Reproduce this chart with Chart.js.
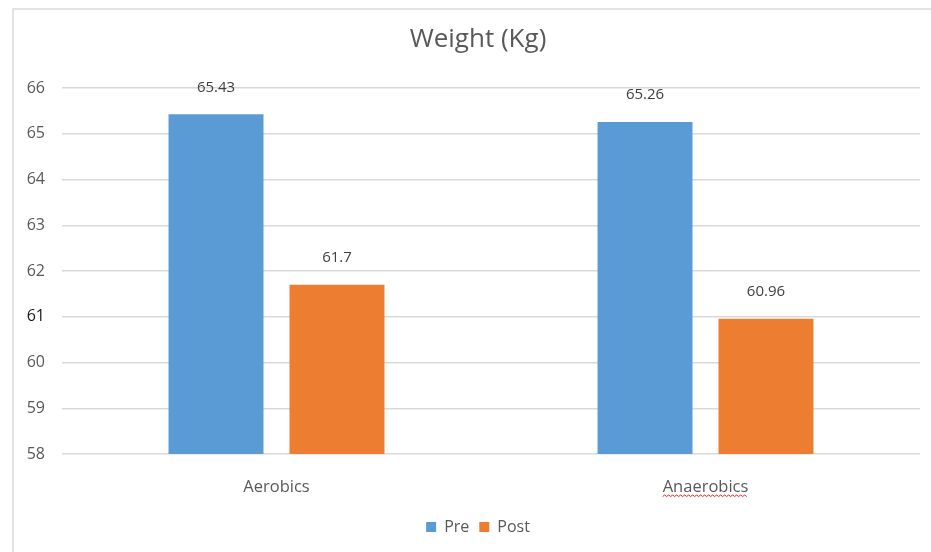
<!DOCTYPE html>
<html>
<head>
<meta charset="utf-8">
<script src="https://cdn.jsdelivr.net/npm/chart.js@4/dist/chart.umd.min.js"></script>
<style>
  html, body { margin: 0; padding: 0; background: #fff; }
  #frame { position: absolute; left: 0; top: 0; width: 931px; height: 552px; overflow: hidden; }
  #edge { position: absolute; left: 12px; top: 8px; right: -2px; bottom: -2px;
          border-top: 2px solid #e3e3e3; border-left: 2px solid #e3e3e3; }
  canvas { position: absolute; left: 0; top: 0; }
</style>
</head>
<body>
<div id="frame">
  <div id="edge"></div>
  <canvas id="chart" width="931" height="552"></canvas>
</div>
<script>
// Body weight before and after each training programme
const categories = ['Aerobics', 'Anaerobics'];
const preValues = [65.43, 65.26];
const postValues = [61.7, 60.96];
const seriesNames = ['Pre', 'Post'];
const yTicks = [58, 59, 60, 61, 62, 63, 64, 65, 66];

const FONT = '"Open Sans", Lato, sans-serif';
const GREY = '#595959';

// Title and legend sit centred on the whole frame, a little right of the canvas middle
const centreShift = {
  id: 'centreShift',
  afterLayout(chart) {
    const dx = 18;
    [chart.titleBlock, chart.legend].forEach(box => {
      if (box) { box.left += dx; box.right += dx; }
    });
  }
};

// Value labels above each bar
const valueLabels = {
  id: 'valueLabels',
  afterDatasetsDraw(chart) {
    const ctx = chart.ctx;
    ctx.save();
    ctx.font = '15px ' + FONT;
    ctx.fillStyle = '#404040';
    ctx.textAlign = 'center';
    ctx.textBaseline = 'middle';
    chart.data.datasets.forEach((ds, i) => {
      chart.getDatasetMeta(i).data.forEach((bar, j) => {
        ctx.fillText(String(ds.data[j]), bar.x, bar.y - 27);
      });
    });
    ctx.restore();
  }
};

// Wavy red underline beneath the second category name
const squiggle = {
  id: 'squiggle',
  afterDraw(chart) {
    const scale = chart.scales.x;
    const ctx = chart.ctx;
    ctx.save();
    ctx.font = '16.5px ' + FONT;
    const w = ctx.measureText(categories[1]).width;
    const cx = scale.getPixelForTick(1);
    const y = scale.top + 41;
    ctx.strokeStyle = '#e02020';
    ctx.lineWidth = 1;
    ctx.beginPath();
    for (let x = cx - w / 2; x <= cx + w / 2; x += 2) {
      const yy = y + ((Math.round((x - cx) / 2) % 2 === 0) ? 0 : 1.5);
      if (x === cx - w / 2) ctx.moveTo(x, yy); else ctx.lineTo(x, yy);
    }
    ctx.stroke();
    ctx.restore();
  }
};

new Chart(document.getElementById('chart'), {
  type: 'bar',
  data: {
    labels: categories,
    datasets: [
      { label: seriesNames[0], data: preValues, backgroundColor: '#5B9BD5' },
      { label: seriesNames[1], data: postValues, backgroundColor: '#ED7D31' }
    ]
  },
  options: {
    responsive: false,
    animation: false,
    devicePixelRatio: 1,
    categoryPercentage: 0.564,
    barPercentage: 0.785,
    layout: { padding: { left: 0, right: 11, top: 0, bottom: 7 } },
    plugins: {
      title: {
        display: true,
        text: 'Weight (Kg)',
        color: GREY,
        font: { family: FONT, size: 26, weight: 'normal' },
        padding: { top: 24, bottom: 33 }
      },
      legend: {
        position: 'bottom',
        labels: {
          color: GREY,
          font: { family: FONT, size: 16 },
          boxWidth: 10,
          boxHeight: 10,
          padding: 10
        }
      },
      tooltip: { enabled: false }
    },
    scales: {
      x: {
        grid: { display: false, drawTicks: false },
        border: { display: false },
        ticks: { color: GREY, font: { family: FONT, size: 16.5 }, padding: 23 },
        afterFit(scale) { scale.height = 55; }
      },
      y: {
        min: yTicks[0],
        max: yTicks[yTicks.length - 1],
        afterBuildTicks(scale) { scale.ticks = yTicks.map(v => ({ value: v })); },
        grid: { color: '#d9d9d9', lineWidth: 1.5, drawTicks: false },
        border: { display: false },
        ticks: {
          color: ctx => (ctx.tick.value === 61 ? '#1a1a1a' : GREY),
          font: { family: FONT, size: 16 },
          padding: 17
        },
        afterFit(scale) { scale.width = 62; }
      }
    }
  },
  plugins: [centreShift, valueLabels, squiggle]
});
</script>
</body>
</html>
